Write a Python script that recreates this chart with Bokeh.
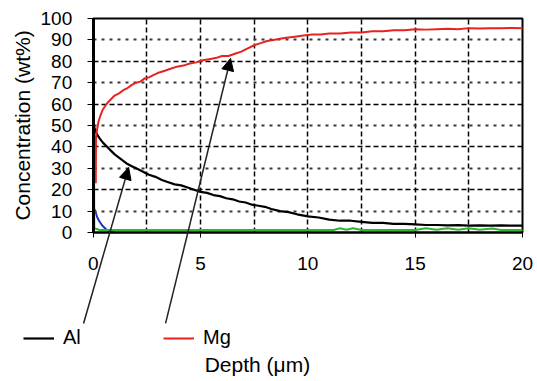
from bokeh.plotting import figure
from bokeh.models import (FixedTicker, Grid, Arrow, NormalHead, Label, Legend,
                          LegendItem, LinearAxis, Range1d)
from bokeh.embed import file_html
from bokeh.resources import INLINE

# ---- data ----
al_depth = [0, 0.03, 0.1, 0.2, 0.3, 0.45, 0.6, 0.8, 1.0, 1.2, 1.4, 1.6, 1.8, 2.0,
            2.3, 2.6, 2.9, 3.2, 3.5, 3.8, 4.1, 4.4, 4.7, 5.0, 5.3, 5.6, 5.9, 6.2,
            6.5, 6.8, 7.1, 7.4, 7.7, 8.0, 8.3, 8.7, 9.1, 9.5, 10.0, 10.5, 11.0,
            11.5, 12.0, 12.5, 13.0, 13.5, 14.0, 14.5, 15.0, 15.5, 16.0, 16.5,
            17.0, 17.5, 18.0, 18.5, 19.0, 19.5, 20.0]
al_conc = [100, 50, 47.5, 45.5, 44, 42, 40.5, 38.5, 36.5, 35, 33.5, 32, 31, 30,
           28.5, 27, 26, 24.5, 23.5, 22.5, 22, 21, 20, 19, 18.5, 17.5, 17, 16,
           15.5, 14.5, 14, 13, 12.5, 12, 11, 10, 9.5, 8.5, 7.5, 7, 6, 5.5, 5.5,
           5, 4.5, 4.5, 4, 4, 3.8, 3.5, 3.5, 3.3, 3.4, 3.2, 3.3, 3.2, 3.3, 3.2, 3.2]

mg_depth = [0.12, 0.13, 0.18, 0.25, 0.35, 0.45, 0.55, 0.7, 0.85, 1.0, 1.2, 1.4,
            1.6, 1.8, 2.0, 2.2, 2.4, 2.6, 2.8, 3.0, 3.3, 3.6, 3.9, 4.2, 4.5, 4.8,
            5.1, 5.4, 5.7, 6.0, 6.3, 6.6, 6.9, 7.2, 7.5, 7.8, 8.1, 8.4, 8.7, 9.0,
            9.4, 9.8, 10.2, 10.6, 11.0, 11.5, 12.0, 12.5, 13.0, 13.5, 14.0, 14.5,
            15.0, 15.5, 16.0, 16.5, 17.0, 17.5, 18.0, 18.5, 19.0, 19.5, 20.0]
mg_conc = [23, 45, 48, 52, 55, 57.5, 59, 61, 62.5, 64, 65, 66.5, 67.5, 69, 70,
           70.5, 72, 72.5, 73.5, 74.5, 75.5, 76.5, 77.5, 78, 79, 79.5, 80.5, 81,
           81.5, 82.5, 82.5, 83.5, 84.5, 86, 87.5, 88.5, 89.5, 90, 90.5, 91,
           91.5, 92, 92.5, 92.5, 93, 93, 93.5, 93.5, 94, 94, 94.5, 94.5, 95,
           94.8, 95, 95.2, 95, 95.5, 95.3, 95.5, 95.4, 95.6, 95.5]

green_depth = [0.02, 0.03, 0.05, 0.3, 5, 10, 11.2, 11.5, 11.8, 12.1, 12.5, 15,
               15.5, 16, 16.5, 17, 17.5, 18, 18.6, 19, 20]
green_conc = [0, 65, 2, 1.2, 1.2, 1.2, 1.2, 2.0, 1.3, 2.0, 1.2, 1.2, 2.0, 1.3,
              2.0, 1.3, 2.0, 1.3, 1.9, 1.2, 1.2]

blue_depth = [0.02, 0.03, 0.08, 0.19, 0.3, 0.42, 0.6, 0.8, 1.0]
blue_conc = [0, 11, 10.5, 7, 5, 3.3, 1.5, 0.3, 0]

x_ticks = [0, 5, 10, 15, 20]
y_ticks = [0, 10, 20, 30, 40, 50, 60, 70, 80, 90, 100]
x_grid = [2.5, 5, 7.5, 10, 12.5, 15, 17.5]
y_grid_major = [20, 40, 60, 80]
y_grid_minor = [10, 30, 50, 70, 90]

# arrows: (start x, start y, tip x, tip y) in data units
arrow_al = (-0.45, -42.5, 1.65, 30.4)
arrow_mg = (3.37, -42.5, 6.40, 81.3)

FONT = "Liberation Sans"
X0, X1, Y0, Y1 = 0, 20, 0, 100

# the frame covers the whole canvas; axes are pinned at the data origin
p = figure(width=537, height=381,
           x_range=Range1d(-4.319, 20.699), y_range=Range1d(-69.63, 108.41),
           output_backend="svg", toolbar_location=None,
           x_axis_type=None, y_axis_type=None,
           min_border_left=0, min_border_right=0, min_border_top=0,
           min_border_bottom=0)
p.background_fill_color = "white"
p.border_fill_color = "white"
p.outline_line_color = None
p.xgrid.visible = False
p.ygrid.visible = False

p.add_layout(Grid(dimension=0, ticker=FixedTicker(ticks=x_grid),
                  cross_bounds=(Y0, Y1),
                  grid_line_color="black", grid_line_width=1.5,
                  grid_line_dash="5 3"))
p.add_layout(Grid(dimension=1, ticker=FixedTicker(ticks=y_grid_major),
                  cross_bounds=(X0, X1),
                  grid_line_color="black", grid_line_width=1.5,
                  grid_line_dash="5 3"))
p.add_layout(Grid(dimension=1, ticker=FixedTicker(ticks=y_grid_minor),
                  cross_bounds=(X0, X1),
                  grid_line_color="#3a3a3a", grid_line_width=2,
                  grid_line_dash="3 5"))

# frame box (top / right edges)
p.quad(left=[X0], right=[X1], bottom=[Y0], top=[Y1], fill_alpha=0,
       line_color="black", line_width=2)

# axes
xaxis = LinearAxis(fixed_location=0, bounds=(X0, X1),
                   ticker=FixedTicker(ticks=x_ticks),
                   major_tick_out=5, major_tick_in=0,
                   minor_tick_out=0, minor_tick_in=0,
                   axis_line_color="black", axis_line_width=2,
                   major_label_standoff=20, major_label_text_font=FONT,
                   major_label_text_font_size="19px",
                   major_label_text_color="black")
p.add_layout(xaxis, "below")

yaxis = LinearAxis(fixed_location=0, bounds=(Y0, Y1),
                   ticker=FixedTicker(ticks=y_ticks),
                   major_tick_out=6, major_tick_in=0,
                   minor_tick_out=0, minor_tick_in=0,
                   axis_line_color="black", axis_line_width=3,
                   major_label_standoff=15, major_label_text_font=FONT,
                   major_label_text_font_size="19px",
                   major_label_text_color="black",
                   axis_label="Concentration (wt%)",
                   axis_label_text_font=FONT, axis_label_text_font_size="21px",
                   axis_label_text_font_style="normal",
                   axis_label_text_color="black", axis_label_standoff=4)
p.add_layout(yaxis, "left")

# series
r_al = p.line(al_depth, al_conc, line_color="black", line_width=2.2)
r_mg = p.line(mg_depth, mg_conc, line_color="#e8231e", line_width=2)
p.line(blue_depth, blue_conc, line_color="#2233bb", line_width=2)
p.line(green_depth, green_conc, line_color="#2fb52f", line_width=2)

# arrows
for (xs, ys, xe, ye) in (arrow_al, arrow_mg):
    p.add_layout(Arrow(x_start=xs, y_start=ys, x_end=xe, y_end=ye,
                       line_color="#222222", line_width=1.5,
                       end=NormalHead(size=12, fill_color="black",
                                      line_color="black")))

# legend below the axis
legend = Legend(items=[LegendItem(label="Al", renderers=[r_al]),
                       LegendItem(label="Mg", renderers=[r_mg])],
                orientation="horizontal", location=(23, 32),
                glyph_width=31, glyph_height=20, label_standoff=9,
                label_width=90, spacing=10, padding=0, margin=0,
                border_line_alpha=0, background_fill_alpha=0,
                label_text_font=FONT, label_text_font_size="20px",
                label_text_color="black")
p.add_layout(legend)

# x axis title
p.add_layout(Label(x=7.65, y=-61.7, text="Depth (\u03bcm)", text_align="center",
                   text_baseline="middle", text_font=FONT,
                   text_font_size="21px", text_color="black"))

open("out.html", "w").write(file_html(p, INLINE))
